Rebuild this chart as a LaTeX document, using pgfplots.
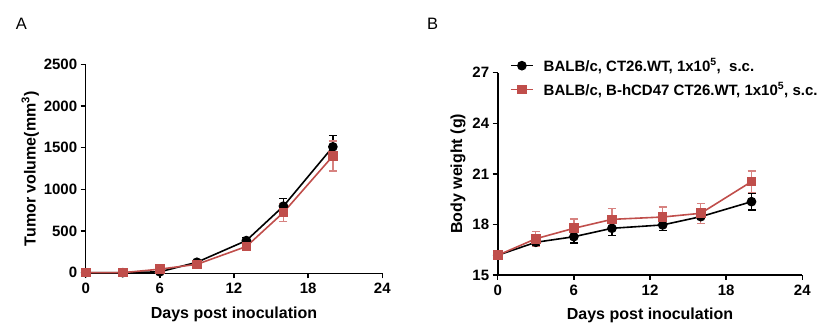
\documentclass[border=0pt]{standalone}
\usepackage{pgfplots}
\pgfplotsset{compat=1.18}
\usepackage{fontspec}
\setmainfont{Liberation Sans}
\definecolor{redc}{RGB}{192,78,75}
\definecolor{rede}{RGB}{215,130,128}
\begin{document}
\begin{tikzpicture}
\pgfplotsset{
  gp/.style={
    scale only axis,
    axis x line=bottom, axis y line=left,
    axis line style={line width=1.6pt,-},
    tick style={line width=1.4pt, black},
    tick align=outside,
    major tick length=5pt,
    xmin=0, xmax=24, xtick={0,6,12,18,24},
    /pgf/number format/assume math mode=true,
    /pgf/number format/1000 sep={},
    ticklabel style={font=\bfseries\fontsize{15}{17}\selectfont},
    xticklabel style={yshift=-1pt},
    label style={font=\bfseries\fontsize{16}{18}\selectfont},
    xlabel style={yshift=-6pt},
    every axis plot/.append style={line width=1.6pt},
    xlabel={Days post inoculation},
    clip=false,
  },
}
% Panel A
\begin{axis}[gp, at={(85.7pt,57.5pt)}, anchor=south west,
  width=296.6pt, height=209.2pt,
  ymin=-10, ymax=2500, ytick={0,500,1000,1500,2000,2500},
  ylabel={Tumor volume(mm\textsuperscript{3})},
  ylabel style={yshift=-2pt},
]
\addplot[black, mark=*, mark size=4pt,
  error bars/.cd, y dir=both, y explicit,
  error bar style={line width=1.3pt, black},
  error mark options={rotate=90, mark size=4pt, line width=1.3pt, black}]
  table[x=d, y=v, y error=e] {
d v e
0 0 0
3 0 0
6 10 5
9 125 15
13 385 40
16 798 90
20 1510 135
};
\addplot[redc, mark=square*, mark size=4pt,
  error bars/.cd, y dir=both, y explicit,
  error bar style={line width=1.3pt, rede},
  error mark options={rotate=90, mark size=4pt, line width=1.3pt, rede}]
  table[x=d, y=v, y error=e] {
d v e
0 0 0
3 0 0
6 42 10
9 100 15
13 314 30
16 722 105
20 1400 180
};
\end{axis}
% Panel B
\begin{axis}[gp, at={(497.7pt,56pt)}, anchor=south west,
  width=304.6pt, height=202.3pt,
  ymin=15, ymax=27, ytick={15,18,21,24,27},
  ylabel={Body weight (g)},
  legend cell align=left,
  legend style={draw=none, fill=none, at={(0.04,1.08)}, anchor=north west,
    font=\bfseries\fontsize{15}{17}\selectfont, row sep=6pt,
    inner sep=0pt,
    /tikz/every odd column/.append style={column sep=8pt}},
  legend image code/.code={
    \draw[mark repeat=2,mark phase=2]
      plot coordinates {(0pt,0pt) (11pt,0pt) (22pt,0pt)};},
]
\addplot[black, mark=*, mark size=4pt,
  error bars/.cd, y dir=both, y explicit,
  error bar style={line width=1.3pt, black},
  error mark options={rotate=90, mark size=4pt, line width=1.3pt, black}]
  table[x=d, y=v, y error=e] {
d v e
0 16.17 0.1
3 16.94 0.22
6 17.27 0.38
9 17.77 0.42
13 17.97 0.35
16 18.46 0.42
20 19.35 0.5
};
\addlegendentry{BALB/c, CT26.WT, 1x10\textsuperscript{5},\ \ s.c.}
\addplot[redc, mark=square*, mark size=4pt,
  error bars/.cd, y dir=both, y explicit,
  error bar style={line width=1.3pt, rede},
  error mark options={rotate=90, mark size=4pt, line width=1.3pt, rede}]
  table[x=d, y=v, y error=e] {
d v e
0 16.17 0.1
3 17.15 0.45
6 17.77 0.55
9 18.30 0.65
13 18.44 0.6
16 18.66 0.6
20 20.54 0.63
};
\addlegendentry{BALB/c, B-hCD47 CT26.WT, 1x10\textsuperscript{5}, s.c.}
\end{axis}
\node[font=\fontsize{16.5}{18}\selectfont] at (21.5pt,307pt) {A};
\node[font=\fontsize{16.5}{18}\selectfont] at (432.5pt,307pt) {B};
\pgfresetboundingbox
\path[use as bounding box] (0pt,0pt) rectangle (833pt,331pt);
\end{tikzpicture}
\end{document}
